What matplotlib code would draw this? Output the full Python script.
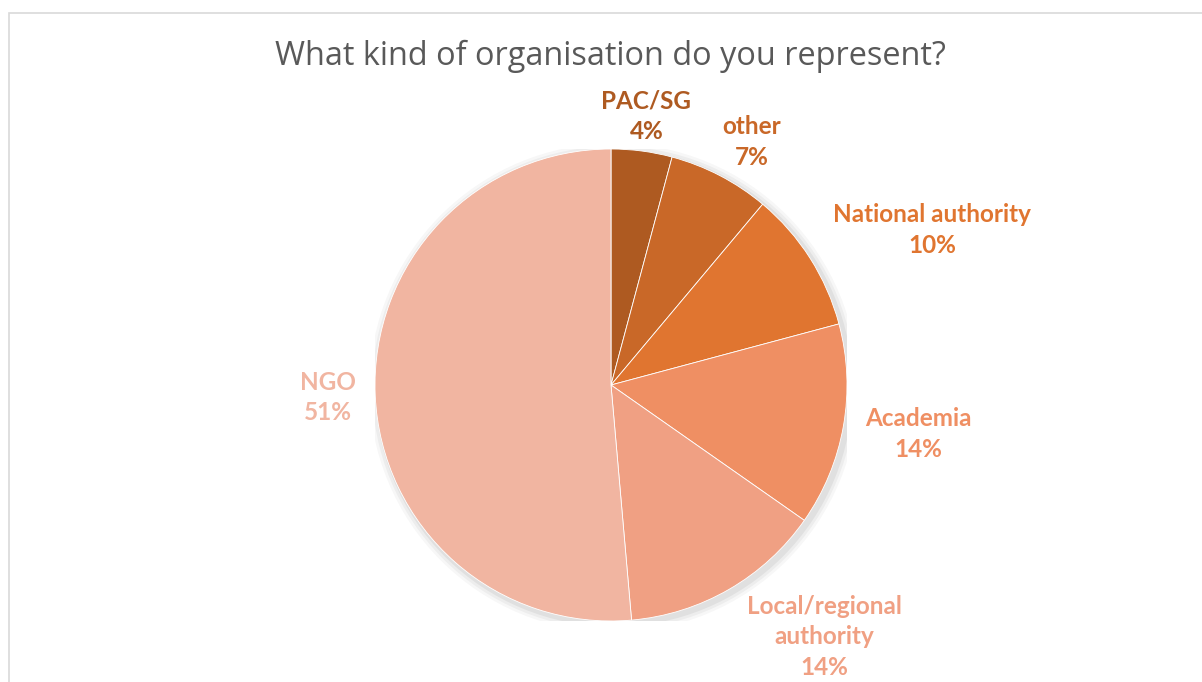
import numpy as np
import matplotlib
matplotlib.use("Agg")
import matplotlib.pyplot as plt
from matplotlib.patches import Rectangle, Circle

# survey responses by organisation type (clockwise from 12 o'clock)
categories = ["PAC/SG", "other", "National authority", "Academia",
              "Local/regional\nauthority", "NGO"]
counts = [3, 5, 7, 10, 10, 37]
colors = ["#AE5A21", "#C96828", "#E07530", "#EF8F63", "#F0A083", "#F1B5A1"]

# label distance from the centre, in pie radii, and an angle nudge (deg)
label_r = [1.15, 1.19, 1.51, 1.32, 1.40, 1.20]
label_nudge = [0, -2.5, -6.7, 0.9, 10.3, 0]

W, H = 1202, 682
fig = plt.figure(figsize=(W / 100, H / 100), dpi=100)
fig.patch.set_facecolor("white")

# light chart-area frame
fig.add_artist(Rectangle((8.5 / W, -0.1), 1.2, 1 - 12.5 / H + 0.1,
                         transform=fig.transFigure, fill=False,
                         edgecolor="#D9D9D9", linewidth=1.2))

fig.text(610 / W, 1 - 56 / H, "What kind of organisation do you represent?",
         ha="center", va="center", fontsize=23.4, color="#595959",
         family="Open Sans")

cx, cy, r = 611, 385, 236
ax = fig.add_axes([(cx - r) / W, (H - cy - r) / H, 2 * r / W, 2 * r / H])

# soft shadow under the pie
for i, a in enumerate([0.05, 0.04, 0.03]):
    ax.add_patch(Circle((0.012, -0.012), 1.0 + 0.012 * (i + 1),
                        color="black", alpha=a, lw=0, zorder=0))

wedges, _ = ax.pie(counts, colors=colors, startangle=90, counterclock=False,
                   radius=1.0,
                   wedgeprops=dict(edgecolor="white", linewidth=0.6))
for w in wedges:
    w.set_zorder(2)
ax.set_xlim(-1, 1)
ax.set_ylim(-1, 1)
ax.set_aspect("equal")
ax.axis("off")

total = sum(counts)
for w, name, n, col, lr, nd in zip(wedges, categories, counts, colors,
                                   label_r, label_nudge):
    mid = np.deg2rad((w.theta1 + w.theta2) / 2 + nd)
    x, y = lr * np.cos(mid), lr * np.sin(mid)
    ax.text(x, y, f"{name}\n{n / total * 100:.0f}%", ha="center", va="center",
            fontsize=17.5, fontweight="bold", color=col, family="Lato",
            linespacing=1.4, clip_on=False)

fig.savefig("out.png", dpi=100)
